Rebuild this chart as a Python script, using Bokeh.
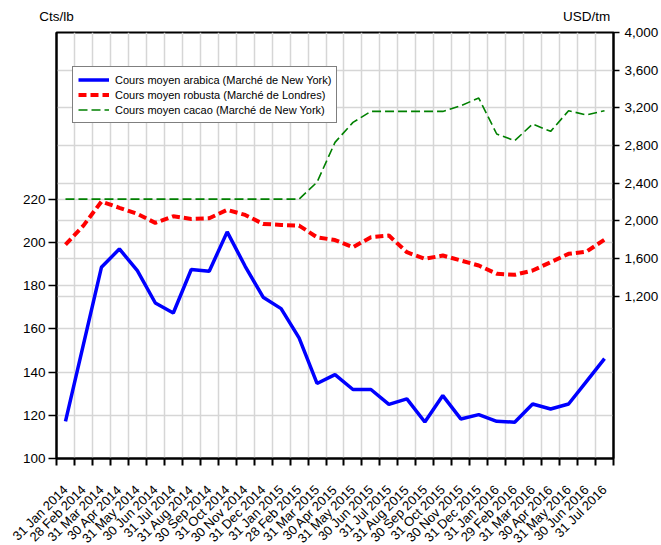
import math
from bokeh.plotting import figure
from bokeh.models import (Range1d, LinearAxis, FixedTicker, Grid,
                          NumeralTickFormatter)
from bokeh.embed import file_html
from bokeh.resources import INLINE

dates = ["31 Jan 2014", "28 Feb 2014", "31 Mar 2014", "30 Apr 2014", "31 May 2014",
         "30 Jun 2014", "31 Jul 2014", "31 Aug 2014", "30 Sep 2014", "31 Oct 2014",
         "30 Nov 2014", "31 Dec 2014", "31 Jan 2015", "28 Feb 2015", "31 Mar 2015",
         "30 Apr 2015", "31 May 2015", "30 Jun 2015", "31 Jul 2015", "31 Aug 2015",
         "30 Sep 2015", "31 Oct 2015", "30 Nov 2015", "31 Dec 2015", "31 Jan 2016",
         "29 Feb 2016", "31 Mar 2016", "30 Apr 2016", "31 May 2016", "30 Jun 2016",
         "31 Jul 2016"]

arabica = [117.2, 152.8, 188.4, 196.9, 186.9, 171.9, 167.3, 187.4, 186.6, 204.8,
           188.9, 174.6, 169.3, 155.8, 134.7, 138.8, 131.9, 131.9, 125.0, 127.6,
           116.9, 129.1, 118.3, 120.3, 117.2, 116.8, 125.2, 122.9, 125.2, 135.7,
           146.2]

robusta = [1747, 1949, 2204, 2138, 2073, 1978, 2048, 2020, 2027, 2116,
           2062, 1967, 1956, 1949, 1825, 1795, 1719, 1825, 1843, 1666,
           1596, 1631, 1578, 1525, 1437, 1426, 1472, 1560, 1649, 1673,
           1800]

cacao = [2230, 2230, 2230, 2230, 2230, 2230, 2230, 2230, 2230, 2230,
         2230, 2230, 2230, 2230, 2410, 2833, 3045, 3162, 3162, 3162,
         3162, 3162, 3222, 3304, 2922, 2851, 3028, 2950, 3169, 3124,
         3169]

left_ticks = [100, 120, 140, 160, 180, 200, 220]
right_ticks = [1200, 1600, 2000, 2400, 2800, 3200, 3600, 4000]

names = ["Cours moyen arabica (Marché de New York)",
         "Cours moyen robusta (Marché de Londres)",
         "Cours moyen cacao (Marché de New York)"]

unit_left = "Cts/lb"
unit_right = "USD/tm"

FONT = "Liberation Sans"
n = len(dates)
xs = [i + 0.5 for i in range(n)]

p = figure(frame_width=557, frame_height=426,
           x_range=Range1d(0, n), y_range=Range1d(100, 297),
           output_backend="svg", toolbar_location=None,
           min_border_left=56, min_border_top=32, min_border_right=45,
           min_border_bottom=85, background_fill_color="white",
           border_fill_color="white")
p.extra_y_ranges = {"right": Range1d(-525, 4000)}

p.outline_line_color = "black"
p.outline_line_width = 2

# x axis
xa = p.xaxis[0]
xa.ticker = FixedTicker(ticks=xs, minor_ticks=list(range(n + 1)))
xa.major_label_overrides = {x: d for x, d in zip(xs, dates)}
xa.major_tick_in = 0
xa.major_tick_out = 0
xa.minor_tick_in = 0
xa.minor_tick_out = 7
xa.minor_tick_line_color = "black"
xa.minor_tick_line_width = 2
xa.axis_line_width = 2
xa.major_label_orientation = math.pi / 4
xa.major_label_standoff = 22
xa.major_label_text_font = FONT
xa.major_label_text_font_size = "13px"
xa.major_label_text_color = "black"

p.xgrid.grid_line_color = None
p.xgrid.minor_grid_line_color = "#d6d6d6"
p.xgrid.minor_grid_line_width = 1.5

# left axis
ya = p.yaxis[0]
ya.ticker = FixedTicker(ticks=left_ticks)
ya.major_tick_in = 0
ya.major_tick_out = 8
ya.major_tick_line_width = 1.5
ya.minor_tick_out = 0
ya.minor_tick_in = 0
ya.axis_line_width = 2
ya.major_label_standoff = 3
ya.major_label_text_font = FONT
ya.major_label_text_font_size = "13.5px"
ya.major_label_text_color = "black"
p.ygrid.ticker = FixedTicker(ticks=left_ticks)
p.ygrid.grid_line_color = "#d6d6d6"
p.ygrid.grid_line_width = 1.5

# right axis
ra = LinearAxis(y_range_name="right", ticker=FixedTicker(ticks=right_ticks),
                formatter=NumeralTickFormatter(format="0,0"))
ra.major_tick_in = 0
ra.major_tick_out = 6
ra.major_tick_line_width = 1.5
ra.minor_tick_out = 0
ra.minor_tick_in = 0
ra.axis_line_width = 2
ra.major_label_standoff = 5
ra.major_label_text_font = FONT
ra.major_label_text_font_size = "13.5px"
ra.major_label_text_color = "black"
p.add_layout(ra, "right")
rg = Grid(dimension=1, ticker=FixedTicker(ticks=right_ticks), y_range_name="right",
          grid_line_color="#d6d6d6", grid_line_width=1.5)
p.add_layout(rg)

# unit labels as an axis above the frame (no line, no ticks)
ua = LinearAxis(ticker=FixedTicker(ticks=[0.0, 29.5]),
                major_label_overrides={0.0: unit_left, 29.5: unit_right})
ua.axis_line_color = None
ua.major_tick_line_color = None
ua.minor_tick_line_color = None
ua.major_tick_out = 0
ua.major_tick_in = 0
ua.major_label_standoff = 9
ua.major_label_text_font = FONT
ua.major_label_text_font_size = "13.5px"
ua.major_label_text_color = "black"
p.add_layout(ua, "above")

# series
p.line(xs, arabica, line_color="#0000ff", line_width=3.5, legend_label=names[0])
p.line(xs, robusta, line_color="#ff0000", line_width=4, line_dash="8 4",
       y_range_name="right", legend_label=names[1])
p.line(xs, cacao, line_color="#008000", line_width=1.6, line_dash="9 4",
       y_range_name="right", legend_label=names[2])

lg = p.legend[0]
lg.location = (16, 335)
lg.margin = 0
lg.padding = 5
lg.spacing = 0
lg.glyph_width = 31
lg.glyph_height = 15
lg.label_height = 15
lg.label_standoff = 6
lg.label_text_font = FONT
lg.label_text_font_size = "11px"
lg.label_text_color = "black"
lg.border_line_color = "black"
lg.border_line_width = 1.5
lg.background_fill_color = "white"
lg.background_fill_alpha = 1

open("out.html", "w").write(file_html(p, INLINE))
